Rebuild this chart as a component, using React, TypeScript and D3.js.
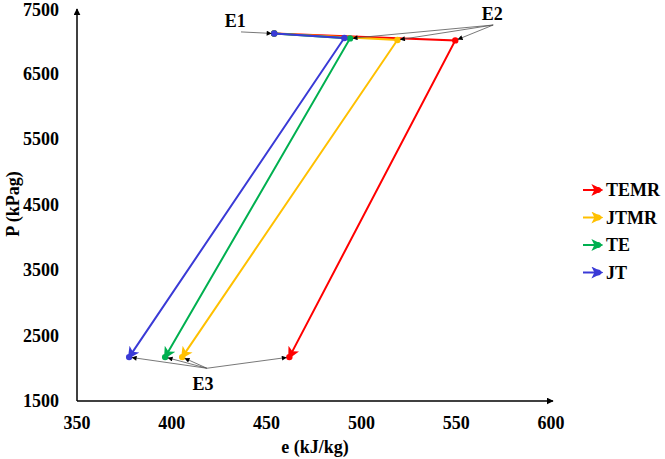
import * as d3 from "d3";

const seriesNames = ["TEMR", "JTMR", "TE", "JT"];
const seriesColors = ["#ff0000", "#ffc000", "#00b050", "#3a3ad6"];
const e1 = 454;
const p1 = 7110;
const e2 = [549.5, 519, 494, 491];
const p2 = [7005, 7012, 7036, 7042];
const e3 = [462, 405.5, 396.5, 377.5];
const p3 = [2170, 2170, 2170, 2170];
const eTicks = [350, 400, 450, 500, 550, 600];
const pTicks = [1500, 2500, 3500, 4500, 5500, 6500, 7500];

const W = 665;
const H = 459;
const font = "'Liberation Serif', 'Times New Roman', serif";

function shorten(x0: number, y0: number, x1: number, y1: number, d: number) {
  const len = Math.hypot(x1 - x0, y1 - y0);
  return [x1 - ((x1 - x0) / len) * d, y1 - ((y1 - y0) / len) * d];
}

export default function App() {
  const x = d3.scaleLinear().domain([350, 600]).range([77, 551]);
  const y = d3.scaleLinear().domain([1500, 7500]).range([401, 8]);
  const line = d3.line<[number, number]>().x(d => x(d[0])).y(d => y(d[1]));

  // annotation anchors, in data units
  const e1Label = { e: 433.5, p: 7300, oe: 436.5, op: 7135 };
  const e2Label = { e: 569, p: 7410, oe: 569.5, op: 7240 };
  const e3Label = { e: 416.5, p: 1760, oe: 418.5, op: 2000 };

  const annot = (oe: number, op: number, te: number, tp: number, k: string) => {
    const x0 = x(oe), y0 = y(op);
    const [x1, y1] = shorten(x0, y0, x(te), y(tp), 3);
    return (
      <line key={k} x1={x0} y1={y0} x2={x1} y2={y1} stroke="#555" strokeWidth={0.8} markerEnd="url(#annArrow)" />
    );
  };

  return (
    <svg width={W} height={H} style={{ position: "fixed", left: 0, top: 0, background: "#fff" }} fontFamily={font}>
      <defs>
        {seriesColors.map((c, i) => (
          <marker key={i} id={`arr${i}`} viewBox="0 0 10 10" refX={8} refY={5} markerWidth={12} markerHeight={12}
            markerUnits="userSpaceOnUse" orient="auto">
            <path d="M0,0 L10,5 L0,10 L2.5,5 Z" fill={c} />
          </marker>
        ))}
        <marker id="axArrow" viewBox="0 0 10 10" refX={9} refY={5} markerWidth={7} markerHeight={7}
          markerUnits="userSpaceOnUse" orient="auto">
          <path d="M0,0 L10,5 L0,10 Z" fill="#000" />
        </marker>
        <marker id="annArrow" viewBox="0 0 10 10" refX={9} refY={5} markerWidth={6} markerHeight={5}
          markerUnits="userSpaceOnUse" orient="auto">
          <path d="M0,0 L10,5 L0,10 Z" fill="#000" />
        </marker>
      </defs>

      {/* axes */}
      <line x1={x(350)} y1={y(1500)} x2={x(350)} y2={y(7500) + 1} stroke="#000" strokeWidth={1.5} markerEnd="url(#axArrow)" />
      <line x1={x(350)} y1={y(1500)} x2={x(600) + 2} y2={y(1500)} stroke="#000" strokeWidth={1.5} markerEnd="url(#axArrow)" />

      {pTicks.map(t => (
        <text key={t} x={59} y={Math.max(y(t), 10)} dy="0.35em" textAnchor="end" fontSize={18} fontWeight="bold">{t}</text>
      ))}
      {eTicks.map(t => (
        <text key={t} x={x(t)} y={423} dy="0.35em" textAnchor="middle" fontSize={18} fontWeight="bold">{t}</text>
      ))}
      <text x={315} y={447} dy="0.35em" textAnchor="middle" fontSize={18} fontWeight="bold">e (kJ/kg)</text>
      <text transform={`translate(13,204) rotate(-90)`} dy="0.35em" textAnchor="middle" fontSize={18} fontWeight="bold">P (kPag)</text>

      {/* series */}
      {seriesNames.map((n, i) => {
        const pts: [number, number][] = [[e1, p1], [e2[i], p2[i]], [e3[i], p3[i]]];
        return (
          <g key={n}>
            <path d={line(pts) ?? ""} fill="none" stroke={seriesColors[i]} strokeWidth={2} markerEnd={`url(#arr${i})`} />
            {pts.map((p, j) => (
              <circle key={j} cx={x(p[0])} cy={y(p[1])} r={3.2} fill={seriesColors[i]} />
            ))}
          </g>
        );
      })}

      {/* annotations */}
      {annot(e1Label.oe, e1Label.op, e1, p1, "a1")}
      {[2, 1, 0].map(i => annot(e2Label.oe, e2Label.op, e2[i], p2[i], `a2${i}`))}
      {[3, 2, 1, 0].map(i => annot(e3Label.oe, e3Label.op, e3[i], p3[i], `a3${i}`))}
      <text x={x(e1Label.e)} y={y(e1Label.p)} dy="0.35em" textAnchor="middle" fontSize={18} fontWeight="bold">E1</text>
      <text x={x(e2Label.e)} y={y(e2Label.p)} dy="0.35em" textAnchor="middle" fontSize={18} fontWeight="bold">E2</text>
      <text x={x(e3Label.e)} y={y(e3Label.p)} dy="0.35em" textAnchor="middle" fontSize={18} fontWeight="bold">E3</text>

      {/* legend */}
      {seriesNames.map((n, i) => {
        const ly = 190 + i * 27.5;
        return (
          <g key={n}>
            <line x1={583} y1={ly} x2={601} y2={ly} stroke={seriesColors[i]} strokeWidth={2} markerEnd={`url(#arr${i})`} />
            <circle cx={598} cy={ly} r={3} fill={seriesColors[i]} />
            <text x={606} y={ly} dy="0.35em" fontSize={18} fontWeight="bold">{n}</text>
          </g>
        );
      })}
    </svg>
  );
}
